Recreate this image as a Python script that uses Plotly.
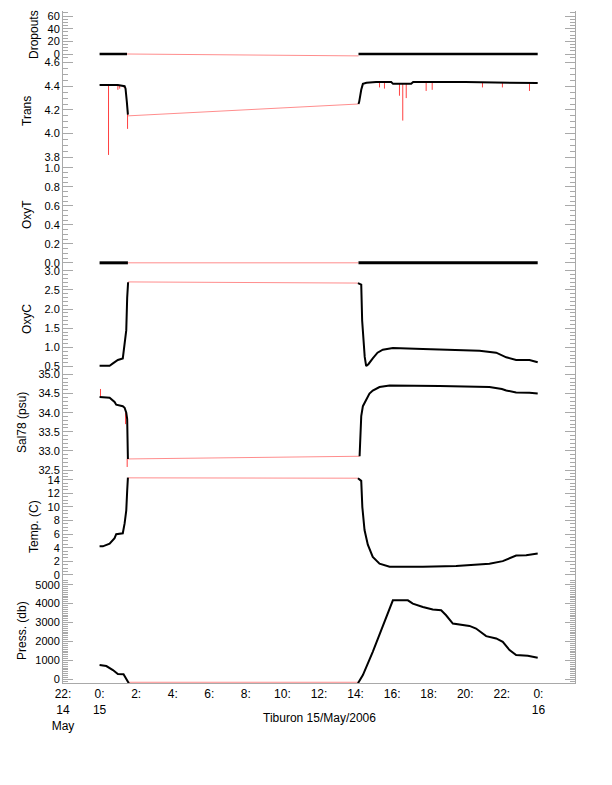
import pandas as pd
import plotly.graph_objects as go

T0 = pd.Timestamp("2006-05-15 00:00")

# ---------------- data (hours after 00:00 15 May 2006) ----------------
# Dropouts
drop_t1 = [0.00, 1.50]
drop_v1 = [0, 0]
drop_t2 = [14.16, 23.96]
drop_v2 = [0, 0]
drop_gap_t = [1.50, 14.16]
drop_gap_v = [0, -3]

# Trans
trans_t1 = [0.00, 0.50, 1.00, 1.37, 1.42, 1.49, 1.55]
trans_v1 = [4.41, 4.41, 4.41, 4.40, 4.38, 4.27, 4.16]
trans_t2 = [14.16, 14.20, 14.31, 14.40, 14.60, 15.12, 15.95, 16.05, 17.04, 17.15, 20.00, 23.96]
trans_v2 = [4.25, 4.27, 4.37, 4.42, 4.43, 4.435, 4.435, 4.42, 4.42, 4.435, 4.435, 4.427]
trans_gap_t = [1.55, 14.16]
trans_gap_v = [4.15, 4.25]
trans_spk_t = [0.49, 1.00, 1.10, 1.31, 1.53, 15.31, 15.58, 16.40, 16.58, 16.77, 17.86, 18.19, 20.94, 22.03, 23.51]
trans_spk_base = [4.41, 4.41, 4.41, 4.41, 4.20, 4.435, 4.435, 4.42, 4.42, 4.42, 4.435, 4.435, 4.435, 4.435, 4.43]
trans_spk_tip = [3.82, 4.37, 4.38, 4.39, 4.04, 4.39, 4.38, 4.32, 4.11, 4.30, 4.36, 4.37, 4.39, 4.39, 4.36]

# OxyT
oxyt_t1 = [0.00, 1.55]
oxyt_v1 = [0, 0]
oxyt_t2 = [14.16, 23.96]
oxyt_v2 = [0, 0]
oxyt_gap_t = [1.55, 14.16]
oxyt_gap_v = [0, 0]

# OxyC
oxyc_t1 = [0.00, 0.55, 0.73, 1.00, 1.27, 1.33, 1.37, 1.46, 1.51, 1.56]
oxyc_v1 = [0.52, 0.52, 0.58, 0.67, 0.71, 0.95, 1.05, 1.45, 2.30, 2.70]
oxyc_t2 = [14.13, 14.31, 14.36, 14.43, 14.50, 14.58, 14.70, 14.94, 15.20, 15.49, 16.04,
           17.68, 19.50, 20.78, 21.69, 22.00, 22.24, 22.78, 23.51, 23.96]
oxyc_v2 = [2.68, 2.64, 1.70, 1.18, 0.75, 0.51, 0.56, 0.71, 0.86, 0.94, 0.98,
           0.96, 0.94, 0.91, 0.86, 0.80, 0.74, 0.67, 0.67, 0.61]
oxyc_gap_t = [1.56, 14.13]
oxyc_gap_v = [2.71, 2.68]

# Sal78
sal_t1 = [0.00, 0.55, 0.82, 0.91, 1.27, 1.37, 1.46, 1.51, 1.55]
sal_v1 = [34.41, 34.39, 34.28, 34.21, 34.17, 34.13, 34.00, 33.83, 32.79]
sal_t2 = [14.22, 14.26, 14.31, 14.40, 14.58, 14.76, 14.94, 15.31, 15.86, 18.59,
          21.32, 22.00, 22.24, 22.78, 23.51, 23.96]
sal_v2 = [32.86, 33.60, 33.91, 34.17, 34.34, 34.50, 34.58, 34.67, 34.71, 34.70,
          34.67, 34.62, 34.58, 34.53, 34.52, 34.50]
sal_gap_t = [1.55, 14.22]
sal_gap_v = [32.79, 32.86]
sal_spk_t = [0.05, 1.42, 1.51]
sal_spk_base = [34.41, 34.00, 32.79]
sal_spk_tip = [34.62, 33.70, 32.58]

# Temp
temp_t1 = [0.00, 0.18, 0.55, 0.82, 0.91, 1.27, 1.37, 1.46, 1.51, 1.55]
temp_v1 = [4.20, 4.20, 4.59, 5.41, 5.99, 6.13, 7.58, 9.50, 12.39, 14.31]
temp_t2 = [14.13, 14.31, 14.37, 14.49, 14.67, 14.94, 15.31, 15.86, 17.68, 19.50,
           21.32, 22.05, 22.78, 23.33, 23.96]
temp_v2 = [14.23, 13.84, 9.98, 6.61, 4.44, 2.66, 1.65, 1.22, 1.22, 1.31,
           1.65, 2.03, 2.85, 2.90, 3.14]
temp_gap_t = [1.55, 14.13]
temp_gap_v = [14.28, 14.23]

# Press
press_t1 = [0.00, 0.37, 0.73, 1.00, 1.31, 1.42, 1.60]
press_v1 = [757, 705, 494, 284, 268, 58, -205]
press_t2 = [14.13, 14.40, 14.94, 15.49, 16.04, 16.86, 17.13, 17.68, 18.22, 18.68, 18.95,
            19.32, 20.23, 20.59, 21.14, 21.69, 22.05, 22.42, 22.78, 23.42, 23.96]
press_v2 = [-205, 231, 1457, 2861, 4176, 4176, 4002, 3823, 3687, 3650, 3387,
            2950, 2824, 2687, 2283, 2162, 1983, 1546, 1283, 1246, 1141]
press_gap_t = [1.60, 14.13]
press_gap_v = [-150, -150]

# x tick labels (every 2 h from 22:00 14 May to 00:00 16 May)
xtick_hours = [-2, 0, 2, 4, 6, 8, 10, 12, 14, 16, 18, 20, 22, 24]
xtick_text = ["22:<br>14<br>May", "0:<br>15", "2:", "4:", "6:", "8:", "10:", "12:",
              "14:", "16:", "18:", "20:", "22:", "0:<br>16"]
x_title = "Tiburon 15/May/2006"
y_titles = ["Dropouts", "Trans", "OxyT", "OxyC", "Sal78 (psu)", "Temp. (C)", "Press. (db)"]


def ts(hours):
    return [None if h is None else T0 + pd.Timedelta(hours=h) for h in hours]


series = [
    dict(t1=drop_t1, v1=drop_v1, t2=drop_t2, v2=drop_v2, gt=drop_gap_t, gv=drop_gap_v, lw=2.5),
    dict(t1=trans_t1, v1=trans_v1, t2=trans_t2, v2=trans_v2, gt=trans_gap_t, gv=trans_gap_v,
         st=trans_spk_t, sb=trans_spk_base, sp=trans_spk_tip, lw=2),
    dict(t1=oxyt_t1, v1=oxyt_v1, t2=oxyt_t2, v2=oxyt_v2, gt=oxyt_gap_t, gv=oxyt_gap_v, lw=3),
    dict(t1=oxyc_t1, v1=oxyc_v1, t2=oxyc_t2, v2=oxyc_v2, gt=oxyc_gap_t, gv=oxyc_gap_v, lw=2),
    dict(t1=sal_t1, v1=sal_v1, t2=sal_t2, v2=sal_v2, gt=sal_gap_t, gv=sal_gap_v,
         st=sal_spk_t, sb=sal_spk_base, sp=sal_spk_tip, lw=2),
    dict(t1=temp_t1, v1=temp_v1, t2=temp_t2, v2=temp_v2, gt=temp_gap_t, gv=temp_gap_v, lw=2),
    dict(t1=press_t1, v1=press_v1, t2=press_t2, v2=press_v2, gt=press_gap_t, gv=press_gap_v, lw=2),
]

# page offset of the plot div (browser body margin)
OFF = 8
W, H = 612 - 2 * OFF, 785 - 2 * OFF
# target plot-area pixel positions in the window
TOP, BOT = 11, 683
LEFT, RIGHT = 63, 575
# panel: top px, bottom px, range, dtick, minor dtick, format, title x px
panels = [
    (11, 59, [-7.9, 67.9], 20, 5, "", 34),
    (59, 163, [3.752, 4.63], 0.2, 0.05, ".1f", 27),
    (163, 267, [-0.044, 1.05], 0.2, 0.05, ".1f", 27),
    (267, 371, [0.382, 3.10], 0.5, 0.1, ".1f", 27),
    (371, 475, [32.37, 35.09], 0.5, 0.1, ".1f", 22),
    (475, 579, [-0.60, 14.70], 2, 0.5, "", 34),
    (579, 683, [-189, 5300], 1000, 100, "", 22),
]

GRAY = "#a9a9a9"
FONT = "Liberation Sans, Arial, Helvetica, sans-serif"
TICK_SIZE = 11
RED_GAP = "rgba(255,0,0,0.45)"
RED_SPK = "rgba(255,0,0,0.75)"

fig = go.Figure()
layout = {}
annotations = []
ph = BOT - TOP
pw = RIGHT - LEFT
for i, (s, p, title) in enumerate(zip(series, panels, y_titles)):
    n = i + 1
    yname = "y" if n == 1 else f"y{n}"
    fig.add_trace(go.Scatter(x=ts(s["gt"]), y=s["gv"], xaxis="x", yaxis=yname, mode="lines",
                             line=dict(color=RED_GAP, width=1), showlegend=False, hoverinfo="skip"))
    if "st" in s:
        sx, sy = [], []
        for t, b, tip in zip(s["st"], s["sb"], s["sp"]):
            sx += [t, t, None]
            sy += [b, tip, None]
        fig.add_trace(go.Scatter(x=ts(sx), y=sy, xaxis="x", yaxis=yname, mode="lines",
                                 line=dict(color=RED_SPK, width=1), showlegend=False,
                                 hoverinfo="skip"))
    bx = s["t1"] + [None] + s["t2"]
    by = s["v1"] + [None] + s["v2"]
    fig.add_trace(go.Scatter(x=ts(bx), y=by, xaxis="x", yaxis=yname, mode="lines",
                             line=dict(color="black", width=s["lw"]), connectgaps=False,
                             showlegend=False))

    top, bot, rng, dt, mdt, fmt, tx = p
    key = "yaxis" if n == 1 else f"yaxis{n}"
    layout[key] = dict(
        domain=[(BOT - bot) / ph, (BOT - top) / ph],
        range=rng, anchor="x", side="left", automargin=False,
        showline=True, linecolor=GRAY, linewidth=1, mirror="ticks",
        ticks="inside", ticklen=10, tickwidth=1, tickcolor=GRAY,
        tick0=0, dtick=dt, tickformat=fmt,
        minor=dict(dtick=mdt, ticks="inside", ticklen=5, tickcolor=GRAY, tickwidth=1, showgrid=False),
        showgrid=False, zeroline=False,
        tickfont=dict(family=FONT, size=TICK_SIZE, color="black"),
    )
    annotations.append(dict(
        text=title, xref="paper", yref="paper",
        x=(tx - LEFT) / pw, y=(BOT - (top + bot) / 2) / ph,
        xanchor="center", yanchor="middle", textangle=-90, showarrow=False,
        font=dict(family=FONT, size=12, color="black")))

layout["xaxis"] = dict(
    domain=[0, 1], anchor="y7", type="date", automargin=False,
    range=[T0 + pd.Timedelta(hours=-2), T0 + pd.Timedelta(hours=26)],
    tickmode="array", tickvals=ts(xtick_hours), ticktext=xtick_text,
    ticks="", showline=True, linecolor=GRAY, linewidth=1, mirror=False,
    showgrid=False, zeroline=False, layer="below traces",
    tickfont=dict(family=FONT, size=12, color="black"),
)

annotations.append(dict(text=x_title, xref="paper", yref="paper", x=0.5, y=-(718 - BOT) / ph,
                        xanchor="center", yanchor="middle", showarrow=False,
                        font=dict(family=FONT, size=12, color="black")))

fig.update_layout(
    width=W, height=H,
    margin=dict(l=LEFT - OFF, r=(W + OFF) - RIGHT, t=TOP - OFF, b=(H + OFF) - BOT,
                pad=0, autoexpand=False),
    paper_bgcolor="white", plot_bgcolor="white",
    font=dict(family=FONT, size=12, color="black"),
    showlegend=False,
    annotations=annotations,
    **layout,
)

fig.write_html("out.html")
